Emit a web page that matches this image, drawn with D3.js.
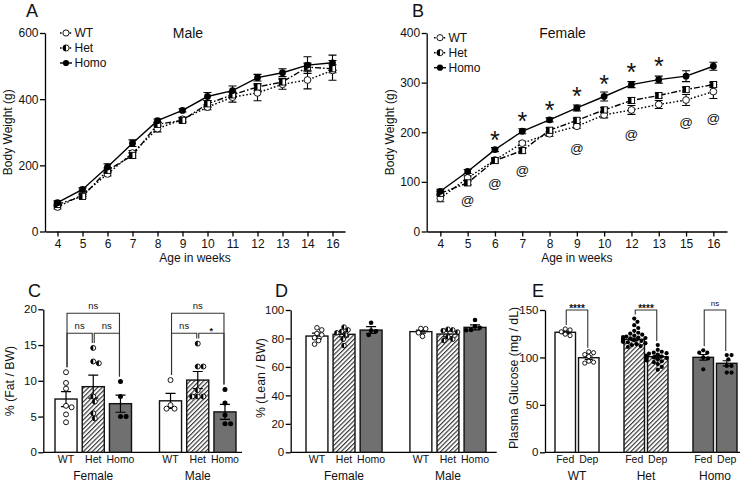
<!DOCTYPE html>
<html><head><meta charset="utf-8">
<script src="https://cdn.jsdelivr.net/npm/d3@7/dist/d3.min.js"></script>
<style>body{margin:0;background:#fff}svg{display:block;font-family:"Liberation Sans",Arial,Helvetica,sans-serif}</style>
</head><body><svg id="c" width="749" height="484"></svg>
<script>
// ---------------- DATA ----------------
const weeksMale = ["4","5","6","7","8","9","10","11","12","13","14","16"];
const maleWT      = [74,111,174,237,311,339,376,406,419,445,458,487];
const maleWTSem   = [6,5,6,8,10,6,8,15,24,15,27,30];
const maleHet     = [82,106,185,230,324,336,386,413,437,452,497,492];
const maleHetSem  = [5,5,7,8,6,7,10,8,10,10,12,12];
const maleHomo    = [87,127,195,267,335,366,408,426,465,480,503,510];
const maleHomoSem = [6,5,10,10,5,5,12,14,10,12,25,23];

const weeksFemale = ["4","5","6","7","8","9","10","12","13","15","16"];
const femaleWT      = [67,108,144,178,197,212,235,245,256,265,282];
const femaleWTSem   = [7,4,4,4,5,4,6,9,8,11,14];
const femaleHet     = [77,98,143,163,204,224,245,264,274,286,296];
const femaleHetSem  = [4,4,5,5,5,4,5,6,5,5,5];
const femaleHomo    = [81,121,165,202,225,249,272,296,306,313,333];
const femaleHomoSem = [4,4,4,5,4,6,9,6,7,11,8];

const starWeeks = ["6","7","8","9","10","12","13"];
const starLevel = [196,233,256,284,308,332,344];
const atWeeks   = ["5","6","7","9","12","15","16"];
const atLevel   = [62,97,123,168,195,220,227];

const genotypes = ["WT","Het","Homo"];
const sexes = ["Female","Male"];

const fatMeanFemale = [7.45,9.18,6.8];
const fatSemFemale  = [1.05,1.6,1.2];
const fatMeanMale   = [7.2,10.1,5.65];
const fatSemMale    = [1.05,1.2,1.05];
const fatFemaleWT   = [11.2,9.7,8.9,6.5,6.3,5.3,4.2];
const fatFemaleHet  = [14.6,12.7,12.45,7.8,7.1,5.45,4.75];
const fatFemaleHomo = [9.9,7.8,5.0,5.0];
const fatMaleWT     = [10.1,6.6,6.1,6.1];
const fatMaleHet    = [15.2,12.0,12.0,8.7,7.8,7.8,7.8];
const fatMaleHomo   = [8.8,6.9,5.2,4.0,4.0];
const fatSig = [
  {group:"Female",a:"WT",b:"Homo",label:"ns",tier:2},
  {group:"Female",a:"WT",b:"Het",label:"ns",tier:1},
  {group:"Female",a:"Het",b:"Homo",label:"ns",tier:1},
  {group:"Male",a:"WT",b:"Homo",label:"ns",tier:2},
  {group:"Male",a:"WT",b:"Het",label:"ns",tier:1},
  {group:"Male",a:"Het",b:"Homo",label:"*",tier:1}
];

const leanMeanFemale = [81.7,82.9,85.9];
const leanSemFemale  = [2.0,1.8,2.4];
const leanMeanMale   = [84.8,83.1,87.8];
const leanSemMale    = [1.0,2.0,1.7];
const leanFemaleWT   = [87.5,86.0,83.5,82.5,80.5,78.5,76.0];
const leanFemaleHet  = [88,86,85,84,82.5,79.5,75];
const leanFemaleHomo = [91,85.5,85,82.5];
const leanMaleWT     = [87,86.8,84,81.5];
const leanMaleHet    = [86.5,86,85.5,84.5,81,79.5,78.5];
const leanMaleHomo   = [93,88.5,87.5,86,85.8];

const feedStates = ["Fed","Dep"];
const glucoseMeanFed = [126.5,119.1,100.1];
const glucoseSemFed  = [1.3,1.2,3.0];
const glucoseMeanDep = [99.7,100.8,93.8];
const glucoseSemDep  = [1.8,1.3,2.7];
const gluWTFed   = [130,129,127,124.5,123];
const gluWTDep   = [106,105,103,101,96,95,94];
const gluHetFed  = [141,137.5,134,131,128,126,125,124,123,122,121.5,121,120.5,120,119.5,119,118.5,118,117.5,117,116.5,116,115,114,113,112,111];
const gluHetDep  = [113,108,106,105,104.5,104,103,102,101.5,101,100,99.5,99,98,97,96,95,93,90,87];
const gluHomoFed = [107.5,105,105,100,99,87.5];
const gluHomoDep = [102.5,102.5,98,91,91,84,84];
const gluSig = [
  {group:"WT",a:"Fed",b:"Dep",label:"****"},
  {group:"Het",a:"Fed",b:"Dep",label:"****"},
  {group:"Homo",a:"Fed",b:"Dep",label:"ns"}
];

// ---------------- DRAWING ----------------
const svg = d3.select("#c");
const defs = svg.append("defs");
const pat = defs.append("pattern").attr("id","hatch").attr("patternUnits","userSpaceOnUse")
  .attr("width",3.2).attr("height",3.2).attr("patternTransform","rotate(45)");
pat.append("rect").attr("width",3.2).attr("height",3.2).attr("fill","#fff");
pat.append("line").attr("x1",0.6).attr("y1",0).attr("x2",0.6).attr("y2",3.2).attr("stroke","#2a2a2a").attr("stroke-width",1.1);

const GREY = "#707070";

function text(g,x,y,s,size,anchor,extra){
  const t = g.append("text").attr("x",x).attr("y",y).attr("font-size",size)
    .attr("text-anchor",anchor||"middle").attr("fill","#111").text(s);
  if(extra) Object.entries(extra).forEach(([k,v])=>t.attr(k,v));
  return t;
}
function vtext(g,x,y,s,size){
  return g.append("text").attr("transform",`translate(${x},${y}) rotate(-90)`)
    .attr("text-anchor","middle").attr("font-size",size).attr("fill","#111").text(s);
}
function styleAxis(sel,fs){
  sel.select(".domain").attr("stroke","#000").attr("stroke-width",1.3);
  sel.selectAll(".tick line").attr("stroke","#000").attr("stroke-width",1.3);
  sel.selectAll(".tick text").attr("font-size",fs).attr("fill","#111")
    .attr("font-family",'"Liberation Sans",Arial,sans-serif');
}
function marker(g,type,cx,cy,r,shape){
  if(type==="open"){
    g.append("circle").attr("cx",cx).attr("cy",cy).attr("r",r).attr("fill","#fff").attr("stroke","#000").attr("stroke-width",0.9);
  } else if(type==="filled"){
    g.append("circle").attr("cx",cx).attr("cy",cy).attr("r",r).attr("fill","#000");
  } else if(shape==="square"){
    g.append("rect").attr("x",cx-r).attr("y",cy-r).attr("width",2*r).attr("height",2*r).attr("fill","#fff").attr("stroke","#000").attr("stroke-width",0.9);
    g.append("rect").attr("x",cx-r).attr("y",cy-r).attr("width",r).attr("height",2*r).attr("fill","#000");
  } else {
    g.append("circle").attr("cx",cx).attr("cy",cy).attr("r",r).attr("fill","#fff").attr("stroke","#000").attr("stroke-width",0.9);
    g.append("path").attr("d",`M${cx},${cy-r}A${r},${r} 0 0 0 ${cx},${cy+r}Z`).attr("fill","#000");
  }
}

function linePanel(p){
  const g = svg.append("g");
  const x = d3.scalePoint().domain(p.weeks).range([p.x0,p.x1]).padding(0.5);
  const y = d3.scaleLinear().domain([0,p.ymax]).range([p.yb,p.yt]);
  g.append("g").attr("transform",`translate(0,${p.yb})`)
    .call(d3.axisBottom(x).tickSize(5).tickSizeOuter(0).tickPadding(2.5)).call(s=>styleAxis(s,12));
  g.append("g").attr("transform",`translate(${p.x0},0)`)
    .call(d3.axisLeft(y).tickValues(p.yticks).tickSize(5).tickSizeOuter(0).tickPadding(1.5)).call(s=>styleAxis(s,12));
  const ser = [
    {v:p.wt,e:p.wtE,dash:"1.6,2",m:"open"},
    {v:p.het,e:p.hetE,dash:"6,2,1.6,2",m:"half"},
    {v:p.homo,e:p.homoE,dash:null,m:"filled"}
  ];
  const line = d3.line().x(d=>x(d.w)).y(d=>y(d.v));
  ser.forEach(s=>{
    g.append("path").datum(p.weeks.map((w,i)=>({w,v:s.v[i]}))).attr("d",line)
      .attr("fill","none").attr("stroke","#000").attr("stroke-width",1.4)
      .attr("stroke-dasharray",s.dash);
  });
  ser.forEach(s=>{
    p.weeks.forEach((w,i)=>{
      const cx=x(w), t=y(s.v[i]+s.e[i]), b=y(s.v[i]-s.e[i]);
      g.append("path").attr("d",`M${cx},${t}V${b}M${cx-4},${t}H${cx+4}M${cx-4},${b}H${cx+4}`)
        .attr("stroke","#000").attr("stroke-width",1.1).attr("fill","none");
    });
  });
  ser.forEach(s=>{
    p.weeks.forEach((w,i)=>marker(g,s.m,x(w),y(s.v[i]),s.m==="half"?3.1:3.4,"square"));
  });
  // legend
  ["WT","Het","Homo"].forEach((nm,i)=>{
    const ly = p.legY + i*15, s = ser[i];
    g.append("line").attr("x1",p.legX-6).attr("x2",p.legX+6).attr("y1",ly).attr("y2",ly)
      .attr("stroke","#000").attr("stroke-width",1.4).attr("stroke-dasharray",s.dash?"1.6,1.6":null);
    marker(g,s.m,p.legX,ly,3.1,"circle");
    text(g,p.legX+8.5,ly+4.3,nm,12,"start");
  });
  text(g,p.titleX,37.5,p.title,14);
  text(g,p.letterX,17,p.letter,18,"start");
  vtext(g,p.ylabX,(p.yb+p.yt)/2,"Body Weight (g)",12);
  text(g,(p.x0+p.x1)/2,261.5,"Age in weeks",12);
  return {g,x,y};
}

const A = linePanel({x0:45,x1:345,yb:231.5,yt:33,ymax:600,yticks:[0,200,400,600],weeks:weeksMale,
  wt:maleWT,wtE:maleWTSem,het:maleHet,hetE:maleHetSem,homo:maleHomo,homoE:maleHomoSem,
  legX:66,legY:33,title:"Male",titleX:188,letter:"A",letterX:26,ylabX:11.5});
const B = linePanel({x0:426.7,x1:727,yb:231.5,yt:33,ymax:400,yticks:[0,100,200,300,400],weeks:weeksFemale,
  wt:femaleWT,wtE:femaleWTSem,het:femaleHet,hetE:femaleHetSem,homo:femaleHomo,homoE:femaleHomoSem,
  legX:440,legY:37.7,title:"Female",titleX:562.5,letter:"B",letterX:412,ylabX:393.5});
starWeeks.forEach((w,i)=>text(B.g,B.x(w),B.y(starLevel[i])+14.5,"*",25));
atWeeks.forEach((w,i)=>text(B.g,B.x(w),B.y(atLevel[i])+4.5,"@",13.5));

function swarmOffsets(ys,r,maxHalf){
  const placed=[]; const offs=[];
  ys.forEach((y,i)=>{
    let best=0;
    for(let k=0;k<60;k++){
      const dx = k===0?0:(k%2?1:-1)*Math.ceil(k/2)*0.8;
      if(Math.abs(dx)>maxHalf) continue;
      const ok = placed.every(p=>Math.hypot(p[0]-dx,p[1]-y) >= 2*r+0.2);
      if(ok){best=dx;break;}
      best=dx;
    }
    placed.push([best,y]); offs.push(best);
  });
  return offs;
}

function barPanel(p){
  const g = svg.append("g");
  const y = d3.scaleLinear().domain([0,p.ymax]).range([452.3,p.yt]);
  const gx = d3.scaleBand().domain(p.groups).range(p.range).paddingInner(p.pg).paddingOuter(0);
  const sx = d3.scaleBand().domain(p.subs).range([0,gx.bandwidth()]).paddingInner(p.ps).paddingOuter(0);
  const cxOf=(gr,sb)=>gx(gr)+sx(sb)+sx.bandwidth()/2;
  g.append("g").attr("transform",`translate(${p.x0},0)`)
    .call(d3.axisLeft(y).tickValues(p.yticks).tickSize(5).tickSizeOuter(0).tickPadding(1.5)).call(s=>styleAxis(s,11.5));
  g.append("line").attr("x1",p.x0).attr("x2",p.x1).attr("y1",y(0)).attr("y2",y(0)).attr("stroke","#000").attr("stroke-width",1.3);
  const maxPt = {};
  p.groups.forEach((gr,gi)=>{
    p.subs.forEach((sb,si)=>{
      const m=p.means[gi][si], e=p.sems[gi][si], pts=p.points[gi][si];
      const style=p.style(gi,si);
      const x0=gx(gr)+sx(sb), w=sx.bandwidth(), cx=x0+w/2;
      g.append("rect").attr("x",x0).attr("y",y(m)).attr("width",w).attr("height",y(0)-y(m))
        .attr("fill",style.fill).attr("stroke","#111").attr("stroke-width",1.4);
      const t=y(m+e), b=y(m-e), cw=p.cap;
      g.append("path").attr("d",`M${cx},${t}V${b}M${cx-cw},${t}H${cx+cw}M${cx-cw},${b}H${cx+cw}`)
        .attr("stroke","#000").attr("stroke-width",1.2).attr("fill","none");
      const ys=pts.map(v=>y(v));
      const offs=swarmOffsets(ys,p.r,w/2+1);
      pts.forEach((v,i)=>marker(g,style.pt,cx+offs[i],ys[i],p.r,"circle"));
      maxPt[gr+"|"+sb]=d3.max(pts);
    });
  });
  p.sig.forEach(s=>{
    const xa=cxOf(s.group,s.a)+1, xb=cxOf(s.group,s.b)-1;
    const by=y(p.tierY[s.tier||1]);
    const la=y(maxPt[s.group+"|"+s.a])-p.gap, lb=y(maxPt[s.group+"|"+s.b])-p.gap;
    g.append("path").attr("d",`M${xa},${la}V${by}H${xb}V${lb}`).attr("fill","none").attr("stroke","#333").attr("stroke-width",1.1);
    if(s.label==="ns") text(g,(xa+xb)/2,by-4.5,"ns",p.nsSize);
    else text(g,(xa+xb)/2,by+p.starDy,s.label,p.starSize,"middle",{"font-weight":"bold"});
  });
  p.subs.length && p.groups.forEach(gr=>{
    p.subs.forEach(sb=>text(g,cxOf(gr,sb),463.3,sb,10.5));
    text(g,gx(gr)+gx.bandwidth()/2,479.5,gr,12);
  });
  text(g,p.letterX,297,p.letter,18,"start");
  vtext(g,p.ylabX,p.ylabY,p.ylabel,12.3);
  return g;
}

const ptStyleGeno = gi=>[{fill:"#fff",pt:"open"},{fill:"url(#hatch)",pt:"half"},{fill:GREY,pt:"filled"}][gi];

barPanel({groups:sexes,subs:genotypes,range:[55,236],pg:0.268,ps:0.19,x0:43.3,x1:242,
  ymax:20,yt:309.3,yticks:[0,5,10,15,20],
  means:[fatMeanFemale,fatMeanMale],sems:[fatSemFemale,fatSemMale],
  points:[[fatFemaleWT,fatFemaleHet,fatFemaleHomo],[fatMaleWT,fatMaleHet,fatMaleHomo]],
  style:(gi,si)=>ptStyleGeno(si),r:2.5,cap:5,sig:fatSig,tierY:{1:16.65,2:19.45},gap:5,
  nsSize:9.5,starSize:9,starDy:0.5,letter:"C",letterX:28,ylabel:"% (Fat / BW)",ylabX:13.5,ylabY:381});

barPanel({groups:sexes,subs:genotypes,range:[306,486],pg:0.268,ps:0.19,x0:290.7,x1:496.7,
  ymax:100,yt:310,yticks:[0,20,40,60,80,100],
  means:[leanMeanFemale,leanMeanMale],sems:[leanSemFemale,leanSemMale],
  points:[[leanFemaleWT,leanFemaleHet,leanFemaleHomo],[leanMaleWT,leanMaleHet,leanMaleHomo]],
  style:(gi,si)=>ptStyleGeno(si),r:2.3,cap:5,sig:[],tierY:{},gap:5,
  nsSize:9.5,starSize:9,starDy:0.5,letter:"D",letterX:275,ylabel:"% (Lean / BW)",ylabX:264.5,ylabY:378});

barPanel({groups:genotypes,subs:feedStates,range:[555,737],pg:0.362,ps:0.128,x0:545,x1:740,
  ymax:150,yt:310,yticks:[0,50,100,150],
  means:[[glucoseMeanFed[0],glucoseMeanDep[0]],[glucoseMeanFed[1],glucoseMeanDep[1]],[glucoseMeanFed[2],glucoseMeanDep[2]]],
  sems:[[glucoseSemFed[0],glucoseSemDep[0]],[glucoseSemFed[1],glucoseSemDep[1]],[glucoseSemFed[2],glucoseSemDep[2]]],
  points:[[gluWTFed,gluWTDep],[gluHetFed,gluHetDep],[gluHomoFed,gluHomoDep]],
  style:(gi,si)=>[{fill:"#fff",pt:"open"},{fill:"url(#hatch)",pt:"filled"},{fill:GREY,pt:"filled"}][gi],
  r:2.1,cap:4,sig:gluSig,tierY:{1:150},gap:4,
  nsSize:8,starSize:10,starDy:2,letter:"E",letterX:532,ylabel:"Plasma Glucose (mg / dL)",ylabX:518,ylabY:378});
</script></body></html>
